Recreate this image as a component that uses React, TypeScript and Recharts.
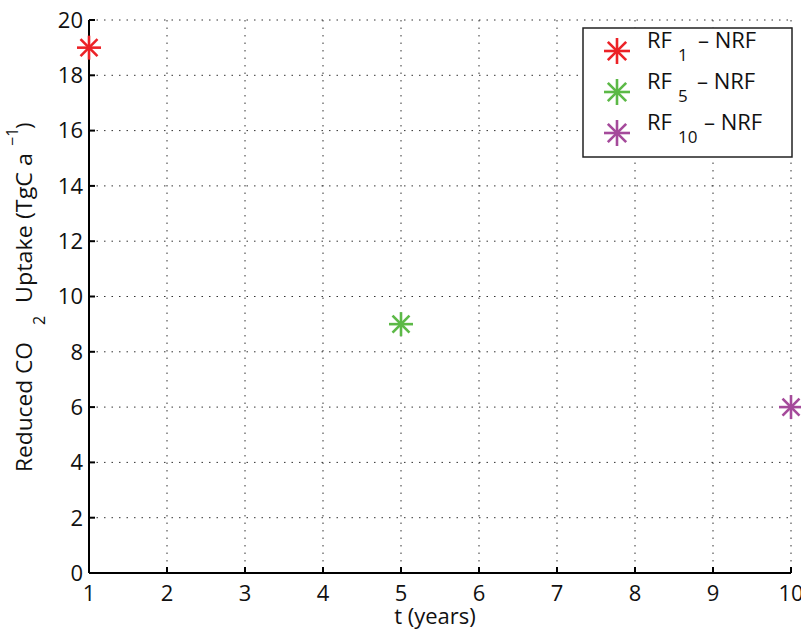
import { ScatterChart, Scatter, XAxis, YAxis, CartesianGrid } from "recharts"

const FONT = "'Open Sans', 'DejaVu Sans', sans-serif"

const xTicks = [1, 2, 3, 4, 5, 6, 7, 8, 9, 10]
const yTicks = [0, 2, 4, 6, 8, 10, 12, 14, 16, 18, 20]

const rf1 = [{ t: 1, uptake: 19 }]
const rf5 = [{ t: 5, uptake: 9 }]
const rf10 = [{ t: 10, uptake: 6 }]

const seriesNames = ["1", "5", "10"]
const seriesColors = ["#ec2227", "#5cb947", "#a54a9b"]

function Star({ cx, cy, fill, r = 12 }: { cx: number; cy: number; fill: string; r?: number }) {
  const d = r * 0.707
  return (
    <g stroke={fill} strokeWidth={2.6} strokeLinecap="butt">
      <line x1={cx - r} y1={cy} x2={cx + r} y2={cy} />
      <line x1={cx} y1={cy - r} x2={cx} y2={cy + r} />
      <line x1={cx - d} y1={cy - d} x2={cx + d} y2={cy + d} />
      <line x1={cx - d} y1={cy + d} x2={cx + d} y2={cy - d} />
    </g>
  )
}

// rotated frame: x' = -screenY, y' = screenX
function YLabel() {
  return (
    <g transform="rotate(-90)" fontFamily={FONT} fill="#111">
      <text x={-472} y={32} fontSize={22} textLength={130} lengthAdjust="spacingAndGlyphs">Reduced CO</text>
      <text x={-325} y={45} fontSize={16}>2</text>
      <text x={-303} y={32} fontSize={22} textLength={150} lengthAdjust="spacingAndGlyphs">Uptake (TgC a</text>
      <text x={-146} y={18} fontSize={16}>−1</text>
      <text x={-129} y={32} fontSize={22}>)</text>
    </g>
  )
}

function XLabel() {
  return (
    <text x={435} y={624} textAnchor="middle" fontFamily={FONT} fontSize={22} fill="#111">
      t (years)
    </text>
  )
}

const legendRows = [
  { base: 48, sub: 61, dash: 698 },
  { base: 89, sub: 102, dash: 697 },
  { base: 130, sub: 143, dash: 704 },
]

function LegendBox() {
  return (
    <svg width={801} height={170} style={{ position: "absolute", left: 0, top: 0 }}>
      <rect x={583} y={28} width={209} height={129} fill="#fff" stroke="#222" strokeWidth={1.5} />
      {legendRows.map((row, i) => (
        <g key={i} fontFamily={FONT} fill="#111">
          <Star cx={617} cy={row.base + 3} fill={seriesColors[i]} r={13} />
          <text x={647} y={row.base} fontSize={22}>RF</text>
          <text x={678} y={row.sub} fontSize={17}>{seriesNames[i]}</text>
          <text x={row.dash} y={row.base} fontSize={22}>– NRF</text>
        </g>
      ))}
    </svg>
  )
}

export default function App() {
  const tick = { fontFamily: FONT, fontSize: 22, fill: "#111" }
  return (
    <div style={{ position: "relative", width: 801, height: 631, background: "#fff" }}>
      <style>{`body{margin:0}`}</style>
      <ScatterChart width={801} height={631} margin={{ top: 20, right: 10, bottom: 0, left: 0 }}>
        <CartesianGrid stroke="#333" strokeDasharray="1.5 6" />
        <XAxis
          type="number"
          dataKey="t"
          domain={[1, 10]}
          ticks={xTicks}
          interval={0}
          height={58}
          tick={tick}
          tickSize={-6}
          tickMargin={18}
          axisLine={{ stroke: "#000", strokeWidth: 2 }}
          tickLine={{ stroke: "#000", strokeWidth: 2 }}
          label={<XLabel />}
        />
        <YAxis
          type="number"
          dataKey="uptake"
          domain={[0, 20]}
          ticks={yTicks}
          interval={0}
          width={89}
          tick={tick}
          tickSize={-6}
          tickMargin={12}
          axisLine={{ stroke: "#000", strokeWidth: 2 }}
          tickLine={{ stroke: "#000", strokeWidth: 2 }}
          label={<YLabel />}
        />
        <Scatter data={rf1} fill={seriesColors[0]} isAnimationActive={false} shape={(p: any) => <Star cx={p.cx} cy={p.cy} fill={seriesColors[0]} />} />
        <Scatter data={rf5} fill={seriesColors[1]} isAnimationActive={false} shape={(p: any) => <Star cx={p.cx} cy={p.cy} fill={seriesColors[1]} />} />
        <Scatter data={rf10} fill={seriesColors[2]} isAnimationActive={false} shape={(p: any) => <Star cx={p.cx} cy={p.cy} fill={seriesColors[2]} />} />
      </ScatterChart>
      <LegendBox />
    </div>
  )
}
